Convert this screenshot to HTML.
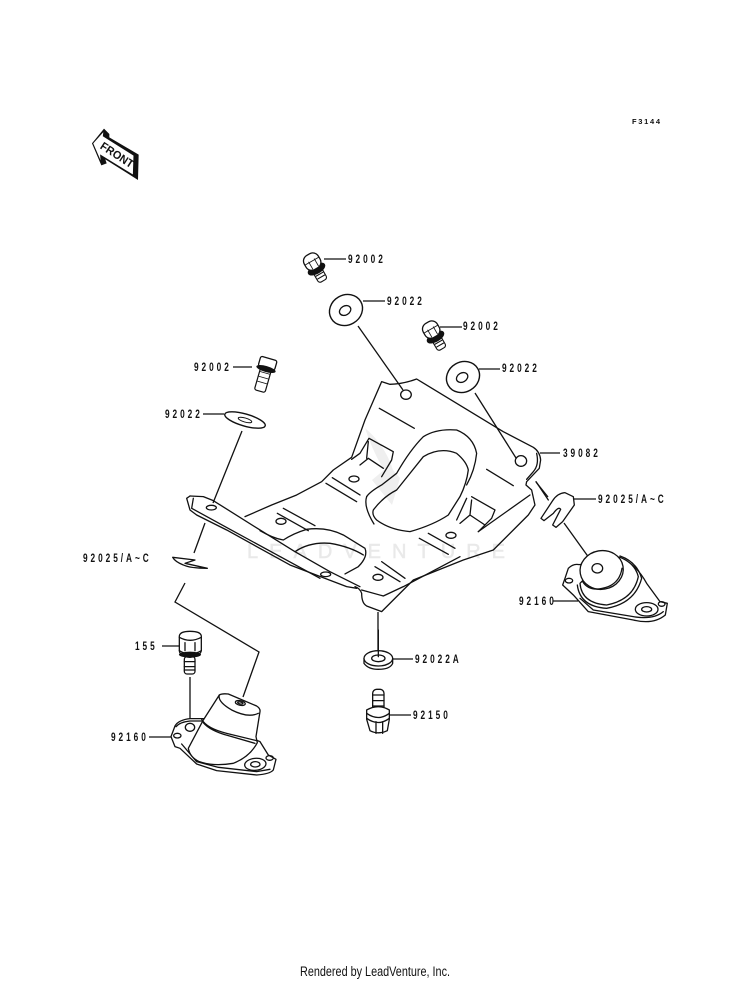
<!DOCTYPE html>
<html><head><meta charset="utf-8"><style>
html,body{margin:0;padding:0;background:#fff}
svg{display:block}
.l{font-family:"Liberation Sans",sans-serif;font-size:11.5px;font-weight:700;letter-spacing:4.1px;fill:#111}
.p{fill:none;stroke:#111;stroke-width:3.9;stroke-linejoin:round;stroke-linecap:round}
.w{fill:#fff;stroke:#111;stroke-width:3.9;stroke-linejoin:round;stroke-linecap:round}
.t{fill:none;stroke:#111;stroke-width:1.3}
</style></head><body>
<svg width="750" height="981" viewBox="0 0 750 981" xmlns="http://www.w3.org/2000/svg">
<rect width="750" height="981" fill="#fff"/>
<text x="247" y="558" font-family="Liberation Sans,sans-serif" font-size="20" textLength="258" fill="#e9e9e9" stroke="#e9e9e9" stroke-width=".5">LEADVENTURE</text>
<path d="M365,428 Q385,445 393,470 L400,478 L392,505 L372,480 L384,470 Q372,450 365,428 Z" fill="#efefef"/>

<!-- FRONT arrow -->
<g transform="translate(80,120) scale(.3333)">
<polygon points="72,26 88,42 88,52 176,104 174,180 76,118 80,130 64,136 36,70" fill="#111"/>
<polygon points="38,70 72,32 70,48 162,106 160,166 62,106 64,130" fill="#fff" stroke="#111" stroke-width="3"/>
<text x="0" y="0" transform="translate(58,84) rotate(33)" font-family="Liberation Sans,sans-serif" font-weight="700" font-size="34" textLength="112" lengthAdjust="spacingAndGlyphs" fill="#111">FRONT</text>
</g>

<text x="632" y="124" font-family="Liberation Sans,sans-serif" font-size="7.5" font-weight="700" textLength="28" fill="#111">F3144</text>

<!-- Main plate -->
<g transform="translate(170,370) scale(.3333)">
<path class="p" d="M225,440 L305,405 L380,375 L455,335 L490,300 L545,262 L585,150 L635,35 L660,43 Q700,42 740,27 L1000,185 L1090,232 Q1110,245 1112,270 L1108,295 L1070,335 L1068,345 L1085,360 L1095,405 L1075,435 L970,540 L880,570 L730,630 L635,725 L590,708 Q575,700 575,670 Q570,655 555,650"/>
<path class="p" d="M1100,250 Q1108,285 1090,305 L1070,328"/>
<path class="p" d="M1080,375 L925,485"/>
<path class="p" d="M575,660 L640,678 L700,650 L870,560"/>
<!-- bracket -->
<path class="p" d="M60,378 L50,385 L60,420 L80,435 L170,480 L360,585 L530,650 L560,655"/>
<path class="p" d="M60,378 L100,380 L130,392 L270,480 L375,545 L480,605 L570,650"/>
<path class="p" d="M70,385 L65,415 L180,478 L450,625"/>
<!-- holes -->
<ellipse class="p" cx="708" cy="74" rx="16" ry="14"/>
<ellipse class="p" cx="1053" cy="273" rx="17" ry="16"/>
<ellipse class="p" cx="552" cy="327" rx="15" ry="9"/>
<ellipse class="p" cx="333" cy="454" rx="15" ry="9"/>
<ellipse class="p" cx="843" cy="496" rx="15" ry="9"/>
<ellipse class="p" cx="624" cy="622" rx="15" ry="9"/>
<ellipse class="p" cx="124" cy="413" rx="15" ry="7"/>
<ellipse class="p" cx="467" cy="613" rx="15" ry="7"/>
<!-- short lines -->
<path class="p" d="M628,115 L733,175 M950,298 L1030,347 M487,323 L570,375 M468,340 L560,395 M340,415 L435,467 M322,430 L415,482 M775,490 L855,535 M748,505 L835,553 M635,575 L705,625 M615,590 L690,635"/>
<!-- central opening -->
<path class="p" d="M590,380 Q600,365 635,345 L680,310 Q720,240 760,200 Q800,175 860,180 Q910,200 920,250 Q915,300 890,345"/>
<path class="p" d="M610,420 Q640,380 680,360 Q720,310 760,260 Q810,230 860,250 Q890,275 895,300 Q890,340 870,380 L835,435 Q790,465 720,485 Q660,480 620,450 Q605,435 610,420 Z"/>
<path class="p" d="M590,380 Q580,410 612,462"/>
<!-- lower cutout -->
<path class="p" d="M270,482 Q310,505 340,510 Q370,490 410,478 Q470,470 520,495 L585,535 Q595,560 565,590 L525,612"/>
<path class="p" d="M375,545 Q420,515 480,520 Q540,530 580,555"/>
<!-- tabs -->
<path class="p" d="M545,268 L570,250 L597,205 L670,245 L665,270 L635,320 M570,285 L595,265 L640,295 M595,215 L590,265"/>
<path class="p" d="M890,385 L860,450 M905,380 L975,420 L965,445 L925,485 M870,460 L900,435 L945,465 M905,390 L900,435"/>
</g>

<!-- Leaders -->
<g>
<path class="t" d="M358,326 L403,390"/>
<path class="t" d="M475,393 L516,458"/>
<path class="t" d="M242,431 L213,503"/>
<path class="t" d="M205,523 L194,553"/>
<path class="t" d="M185,583 L175,602 L259,652 L243,697"/>
<path class="t" d="M540,453 L560,453"/>
<path class="t" d="M378,612 L378,650"/>
<path class="t" d="M536,482 L548,497"/>
<path class="t" d="M564,523 L592,562"/>
<path class="t" d="M190,677 L190,725"/>
<path class="t" d="M162,646 L179,646"/>
<path class="t" d="M149,737 L172,737"/>
<path class="t" d="M553,601 L578,601"/>
<path class="t" d="M574,499 L596,499"/>
<path class="t" d="M392,659 L413,659"/>
<path class="t" d="M389,715 L411,715"/>
<path class="t" d="M324,259 L346,259"/>
<path class="t" d="M363,301 L385,301"/>
<path class="t" d="M440,327 L462,327"/>
<path class="t" d="M479,369 L500,369"/>
<path class="t" d="M233,367 L252,367"/>
<path class="t" d="M203,414 L224,414"/>
</g>

<!-- 92022 washers -->
<g transform="translate(346,310) rotate(-30)"><ellipse cx="0" cy="0" rx="17" ry="15" fill="#fff" stroke="#111" stroke-width="1.4"/><ellipse cx="-1" cy="0" rx="6" ry="4.5" fill="#fff" stroke="#111" stroke-width="1.3"/></g>
<g transform="translate(463,377) rotate(-30)"><ellipse cx="0" cy="0" rx="17" ry="15" fill="#fff" stroke="#111" stroke-width="1.4"/><ellipse cx="-1" cy="0" rx="6" ry="4.5" fill="#fff" stroke="#111" stroke-width="1.3"/></g>
<g transform="translate(245,420) rotate(16)"><ellipse rx="21" ry="6" fill="#fff" stroke="#111" stroke-width="1.4"/><ellipse rx="7" ry="2" fill="none" stroke="#111"/></g>

<!-- bolts (flanged) -->
<g transform="translate(313,263) rotate(-30) scale(1.08)">
<rect x="-4.5" y="7" width="9" height="12" rx="2.5" fill="#fff" stroke="#111"/>
<path d="M-4,12H4M-4,15H4" stroke="#111"/>
<ellipse cx="0" cy="6.5" rx="9" ry="4.5" fill="#111"/>
<rect x="-7.5" y="-9" width="15" height="15" rx="6" fill="#fff" stroke="#111" stroke-width="1.2"/>
<path d="M-3,-3 L-3,5 M3,-3 L3,5 M-7,-2 L7,-2" stroke="#111" stroke-width=".8"/>
</g>
<g transform="translate(432,331) rotate(-30) scale(1.08)">
<rect x="-4.5" y="7" width="9" height="12" rx="2.5" fill="#fff" stroke="#111"/>
<path d="M-4,12H4M-4,15H4" stroke="#111"/>
<ellipse cx="0" cy="6.5" rx="9" ry="4.5" fill="#111"/>
<rect x="-7.5" y="-9" width="15" height="15" rx="6" fill="#fff" stroke="#111" stroke-width="1.2"/>
<path d="M-3,-3 L-3,5 M3,-3 L3,5 M-7,-2 L7,-2" stroke="#111" stroke-width=".8"/>
</g>
<g transform="translate(266,369) rotate(16)">
<rect x="-5.5" y="-1" width="11" height="24" rx="2" fill="#fff" stroke="#111" stroke-width="1.2"/>
<path d="M-5,4H5M-5,9H5M-5,14H5" stroke="#111" stroke-width=".8"/>
<rect x="-8.5" y="-11" width="17" height="10" rx="2" fill="#fff" stroke="#111" stroke-width="1.3"/>
<ellipse cx="0" cy="0" rx="10" ry="3" fill="#111"/>
</g>

<!-- 155 bolt & left mount -->
<g transform="translate(100,620) scale(.3333)">
<rect class="w" x="253" y="110" width="32" height="52" rx="8"/>
<path class="p" d="M253,125H285M253,140H285M253,150H285"/>
<path class="w" d="M238,48 Q240,34 270,34 Q302,34 304,48 L304,92 Q300,110 270,112 Q240,110 238,92 Z"/>
<path class="p" d="M238,52 Q270,70 304,52 M255,68 L255,92 M285,68 L285,92 M238,92 Q270,112 304,92"/>
<ellipse cx="270" cy="104" rx="33" ry="9" fill="#111"/>
<path class="w" d="M225,318 Q235,300 270,296 L310,296 L480,365 L505,405 L528,418 L520,450 Q510,462 470,465 L350,452 L290,432 L240,385 L225,380 L213,350 Z"/>
<path class="p" d="M245,372 L290,425 L355,442 L470,455 L510,448 M228,320 Q240,306 270,303 L305,303"/>
<path class="w" d="M358,225 Q365,220 385,222 L470,258 Q482,266 480,275 L468,350 L472,368 Q450,410 400,430 Q340,440 298,425 Q270,412 265,385 L310,300 Z"/>
<path class="p" d="M305,298 Q320,325 380,340 L470,362 M310,308 Q330,332 385,347 L465,370"/>
<path class="p" d="M358,225 Q352,245 395,270 Q445,295 475,280"/>
<ellipse class="p" cx="421" cy="249" rx="15" ry="7" transform="rotate(12 421 249)"/>
<ellipse class="p" cx="421" cy="249" rx="8" ry="3" transform="rotate(12 421 249)"/>
<ellipse class="p" cx="270" cy="322" rx="14" ry="12"/>
<ellipse class="p" cx="232" cy="347" rx="11" ry="7"/>
<ellipse class="p" cx="466" cy="433" rx="32" ry="18" transform="rotate(-5 466 433)"/>
<ellipse class="p" cx="466" cy="433" rx="14" ry="8"/>
<ellipse class="p" cx="509" cy="414" rx="11" ry="7"/>
</g>

<!-- right mount & clip -->
<g transform="translate(520,470) scale(.3333)">
<path class="p" d="M48,35 L85,90"/>
<path class="w" d="M63,145 L98,92 Q112,70 135,68 L160,80 L163,105 L128,155 L108,172 L98,165 L122,118 Q116,108 100,130 L72,152 Z"/>
<path class="w" d="M135,325 L145,295 Q160,280 178,284 L305,265 Q350,285 380,340 L420,395 L442,400 L436,435 Q400,465 340,450 L205,425 L160,375 L128,345 Z"/>
<path class="p" d="M180,385 L220,420 L340,440 Q400,450 430,425"/>
<path class="w" d="M180,340 Q185,400 260,405 Q340,390 355,320 Q345,280 300,262 L290,262 L190,330 Z"/>
<path class="p" d="M172,345 Q180,410 260,415 Q345,400 365,325 Q350,275 300,258"/>
<ellipse class="w" cx="245" cy="300" rx="65" ry="58" transform="rotate(-10 245 300)"/>
<path class="p" d="M188,335 Q210,370 265,350 Q300,335 306,295"/>
<ellipse class="p" cx="232" cy="295" rx="16" ry="14"/>
<ellipse class="p" cx="380" cy="418" rx="34" ry="20"/>
<ellipse class="p" cx="380" cy="418" rx="15" ry="8"/>
<ellipse class="p" cx="147" cy="332" rx="11" ry="7"/>
<ellipse class="p" cx="425" cy="402" rx="10" ry="7"/>
</g>

<!-- 92025 left clip -->
<g transform="translate(170,370) scale(.3333)">
<path class="w" d="M8,562 L75,570 L45,580 L112,595 Q60,595 40,585 Q15,575 8,562 Z"/>
</g>

<!-- 92022A, 92150 -->
<g transform="translate(340,630) scale(.3333)">
<path class="w" d="M72,85 L72,100 Q85,118 115,118 Q150,118 158,100 L158,85 Z"/>
<ellipse class="w" cx="115" cy="85" rx="43" ry="23"/>
<ellipse class="p" cx="115" cy="85" rx="20" ry="10"/>
<path class="p" d="M115,0 L115,80"/>
<rect class="w" x="98" y="178" width="34" height="70" rx="12"/>
<path class="p" d="M98,195H132M98,212H132M98,228H132"/>
<path class="w" d="M80,240 Q115,220 148,240 L148,268 L142,302 Q115,315 90,302 L80,268 Z"/>
<path class="p" d="M80,250 Q115,275 148,250 M80,265 Q115,290 148,265 M108,275 L108,310 M128,275 L128,310"/>
</g>

<!-- Labels -->
<text class="l" transform="translate(348,263) scale(.72,1)">92002</text>
<text class="l" transform="translate(387,305) scale(.72,1)">92022</text>
<text class="l" transform="translate(463,330) scale(.72,1)">92002</text>
<text class="l" transform="translate(502,372) scale(.72,1)">92022</text>
<text class="l" transform="translate(194,371) scale(.72,1)">92002</text>
<text class="l" transform="translate(165,418) scale(.72,1)">92022</text>
<text class="l" transform="translate(563,457) scale(.72,1)">39082</text>
<text class="l" transform="translate(598,503) scale(.72,1)">92025/A~C</text>
<text class="l" transform="translate(83,562) scale(.72,1)">92025/A~C</text>
<text class="l" transform="translate(519,605) scale(.72,1)">92160</text>
<text class="l" transform="translate(415,663) scale(.72,1)">92022A</text>
<text class="l" transform="translate(413,719) scale(.72,1)">92150</text>
<text class="l" transform="translate(135,650) scale(.72,1)">155</text>
<text class="l" transform="translate(111,741) scale(.72,1)">92160</text>
<text x="300" y="976" font-family="Liberation Sans,sans-serif" font-size="13.5" textLength="150" lengthAdjust="spacingAndGlyphs" fill="#111">Rendered by LeadVenture, Inc.</text>
</svg>
</body></html>
